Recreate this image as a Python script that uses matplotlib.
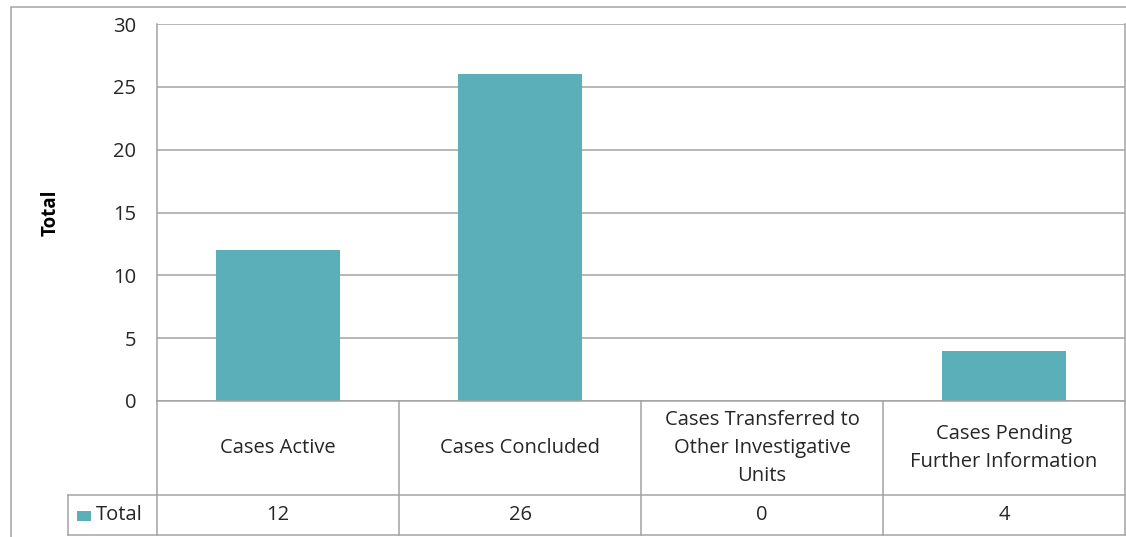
import matplotlib
matplotlib.use("Agg")
import matplotlib.pyplot as plt
from matplotlib.patches import Rectangle
from matplotlib.lines import Line2D

# ── Data ─────────────────────────────────────────────────────────────────────
categories = ["Cases Active", "Cases Concluded",
              "Cases Transferred to\nOther Investigative\nUnits",
              "Cases Pending\nFurther Information"]
totals = [12, 26, 0, 4]
series_name = "Total"
y_ticks = [0, 5, 10, 15, 20, 25, 30]

BAR = "#5AAFB9"
GRID = "#A3A3A3"
TXT = "#262626"
FS = 14.5

plt.rcParams.update({
    "font.family": ["Open Sans", "DejaVu Sans"],
    "font.size": FS,
})

W, H = 1126, 537
fig = plt.figure(figsize=(W / 100, H / 100), dpi=100)

def px_box(x0, y0, x1, y1):
    # pixel box (top-left origin) -> figure fraction rect
    return [x0 / W, 1 - y1 / H, (x1 - x0) / W, (y1 - y0) / H]

# outer chart border
fig.patches.append(Rectangle((11 / W, -0.05), 1.2, 1 - 7 / H + 0.05,
                             transform=fig.transFigure, fill=False,
                             edgecolor=GRID, lw=1.1))

# ── Plot area ────────────────────────────────────────────────────────────────
PL, PR, PT, PB = 157, 1125, 24, 401
ax = fig.add_axes(px_box(PL, PT, PR, PB))
x = list(range(len(categories)))
ax.bar(x, totals, width=0.51, color=BAR, zorder=3)
ax.set_xlim(-0.5, len(categories) - 0.5)
ax.set_ylim(0, 30)
ax.set_yticks(y_ticks)
ax.set_xticks([])
ax.tick_params(axis="y", length=0, pad=15, labelcolor=TXT, labelsize=FS)
ax.grid(True, axis="y", color=GRID, lw=1.1, zorder=0)
for side in ("top", "bottom"):
    ax.spines[side].set_visible(False)
for side in ("left", "right"):
    ax.spines[side].set_color(GRID)
    ax.spines[side].set_linewidth(1.1)
ax.set_ylabel("Total", fontweight="bold", fontsize=13.5, color="#000000",
              labelpad=0)
ax.yaxis.set_label_coords((61 - PL) / (PR - PL), 0.5)

# ── Data table ───────────────────────────────────────────────────────────────
TT, TM, TBt = 401, 495, 535
key_left = 68
cat_w = (PR - PL) / len(categories)
ext = (PL - key_left) / cat_w
tax = fig.add_axes(px_box(key_left, TT, PR, TBt + 2))
tax.set_xlim(-0.5 - ext, len(categories) - 0.5)
y_bottom = -(TBt + 2 - TT)
tax.set_ylim(y_bottom, 0)
tax.axis("off")

def hline(x0, x1, y):
    tax.add_line(Line2D([x0, x1], [y, y], color=GRID, lw=1.1, clip_on=False))

def vline(xv, y0, y1):
    tax.add_line(Line2D([xv, xv], [y0, y1], color=GRID, lw=1.1, clip_on=False))

row1 = -(TM - TT)
row2 = -(TBt - TT)
hline(-0.5, len(categories) - 0.5, 0)
hline(-0.5 - ext, len(categories) - 0.5, row1)
hline(-0.5 - ext, len(categories) - 0.5, row2)
for i in range(len(categories) + 1):
    vline(i - 0.5, 0, row2)
vline(-0.5 - ext, row1, row2)

for i, (c, v) in enumerate(zip(categories, totals)):
    tax.text(i, row1 / 2, c, ha="center", va="center", color=TXT,
             fontsize=FS, linespacing=1.55)
    tax.text(i, (row1 + row2) / 2, f"{v}", ha="center", va="center",
             color=TXT, fontsize=FS)

# legend key in the table
key_x = -0.5 - ext + 9 / cat_w
tax.add_patch(Rectangle((key_x, (row1 + row2) / 2 - 6), 14 / cat_w, 10,
                        facecolor=BAR, edgecolor="none", clip_on=False))
tax.text(key_x + 19 / cat_w, (row1 + row2) / 2, series_name,
         ha="left", va="center", color=TXT, fontsize=FS)

fig.savefig("out.png", dpi=100)
